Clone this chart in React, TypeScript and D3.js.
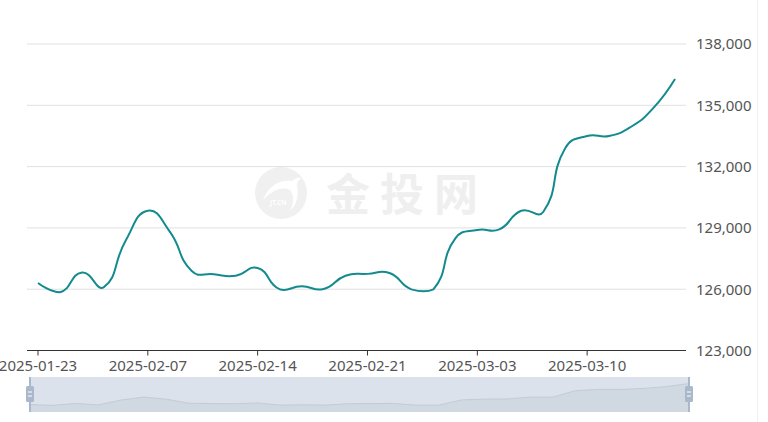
import React from "react";
import * as d3 from "d3";

const dates = [
  "2025-01-23", "2025-01-24", "2025-01-27", "2025-02-05", "2025-02-06",
  "2025-02-07", "2025-02-10", "2025-02-11", "2025-02-12", "2025-02-13",
  "2025-02-14", "2025-02-17", "2025-02-18", "2025-02-19", "2025-02-20",
  "2025-02-21", "2025-02-24", "2025-02-25", "2025-02-26", "2025-02-27",
  "2025-03-03", "2025-03-04", "2025-03-05", "2025-03-06", "2025-03-07",
  "2025-03-10", "2025-03-11", "2025-03-12", "2025-03-13", "2025-03-14",
];

const values = [
  126300, 125850, 126820, 126100, 128400,
  129840, 128820, 126890, 126730, 126660,
  127040, 126000, 126140, 126010, 126660,
  126750, 126790, 125990, 125990, 128490,
  128900, 128930, 129840, 129780, 132900,
  133500, 133500, 133950, 134850, 136290,
];

const yTicks = [123000, 126000, 129000, 132000, 135000, 138000];
const labelEvery = 5;

const W = 768;
const H = 422;
const FONT = "'Noto Sans', 'Open Sans', sans-serif";

// Bezier smoothing (smooth = 0.5), control arms split by neighbour distances,
// constrained to the bounding box of all points.
function smoothBezierCurve(context: any) {
  let pts: [number, number][] = [];
  const smooth = 0.5;
  return {
    areaStart() {},
    areaEnd() {},
    lineStart() {
      pts = [];
    },
    point(x: number, y: number) {
      pts.push([+x, +y]);
    },
    lineEnd() {
      const n = pts.length;
      if (!n) return;
      const minX = d3.min(pts, (p) => p[0]) as number;
      const maxX = d3.max(pts, (p) => p[0]) as number;
      const minY = d3.min(pts, (p) => p[1]) as number;
      const maxY = d3.max(pts, (p) => p[1]) as number;
      const clamp = (p: [number, number]): [number, number] => [
        Math.min(maxX, Math.max(minX, p[0])),
        Math.min(maxY, Math.max(minY, p[1])),
      ];
      const cps: [number, number][] = [];
      for (let i = 0; i < n; i++) {
        const p = pts[i];
        if (i === 0 || i === n - 1) {
          cps.push([p[0], p[1]]);
          continue;
        }
        const prev = pts[i - 1];
        const next = pts[i + 1];
        const vx = (next[0] - prev[0]) * smooth;
        const vy = (next[1] - prev[1]) * smooth;
        let d0 = Math.hypot(p[0] - prev[0], p[1] - prev[1]);
        let d1 = Math.hypot(p[0] - next[0], p[1] - next[1]);
        const sum = d0 + d1;
        if (sum !== 0) {
          d0 /= sum;
          d1 /= sum;
        }
        cps.push(clamp([p[0] - vx * d0, p[1] - vy * d0]));
        cps.push(clamp([p[0] + vx * d1, p[1] + vy * d1]));
      }
      context.moveTo(pts[0][0], pts[0][1]);
      for (let i = 0; i < n - 1; i++) {
        const c1 = cps[i * 2];
        const c2 = cps[i * 2 + 1];
        const p = pts[i + 1];
        context.bezierCurveTo(c1[0], c1[1], c2[0], c2[1], p[0], p[1]);
      }
    },
  };
}

export default function App() {
  const x = d3.scalePoint<string>().domain(dates).range([27, 686]).padding(0.5);
  const y = d3.scaleLinear().domain([123000, 138000]).range([350.5, 44]);

  const line = d3
    .line<number>()
    .x((_, i) => x(dates[i]) as number)
    .y((v) => y(v))
    .curve(smoothBezierCurve as any);

  // data zoom slider
  const sx0 = 30, sx1 = 689, sy0 = 377, sy1 = 412;
  const ext = d3.extent(values) as [number, number];
  const off = (ext[1] - ext[0]) * 0.3;
  const sxs = d3.scaleLinear().domain([0, dates.length - 1]).range([sx0, sx1]);
  const sys = d3.scaleLinear().domain([ext[0] - off, ext[1] + off]).range([sy1, sy0]);
  const shadowArea = d3
    .area<number>()
    .x((_, i) => sxs(i))
    .y0(sy1)
    .y1((v) => sys(v));
  const shadowLine = d3
    .line<number>()
    .x((_, i) => sxs(i))
    .y((v) => sys(v));

  const fmt = d3.format(",");

  const handle = (hx: number) => (
    <g>
      <line x1={hx} x2={hx} y1={sy0} y2={sy1} stroke="#a9b8cc" strokeWidth={2} />
      <rect x={hx - 4} y={386} width={8} height={16} rx={1.5} fill="#a9b8cc" />
      <line x1={hx - 2} x2={hx + 2} y1={392} y2={392} stroke="#fff" strokeWidth={1} />
      <line x1={hx - 2} x2={hx + 2} y1={396} y2={396} stroke="#fff" strokeWidth={1} />
    </g>
  );

  return (
    <svg
      width={W}
      height={H}
      style={{ position: "absolute", left: 0, top: 0, background: "#fff" }}
    >
      {/* watermark */}
      <g>
        <circle cx={281} cy={193} r={26} fill="#f0f0f0" />
        <path
          d="M263,200 C268,186 280,179 292,181 C295,178 299,177 302,178 C298,180 297,183 297,186 C299,195 297,204 290,211 C294,203 294,195 290,190 C282,186 272,190 263,200 Z"
          fill="#fff"
        />
        <text x={270} y={205} fontSize={6.5} fill="#fff" fontFamily={FONT} fontWeight="bold">
          JT.CN
        </text>
        <text
          x={326}
          y={211}
          fontSize={44}
          fontWeight="bold"
          letterSpacing={10}
          fill="#efefef"
          fontFamily="'Noto Sans CJK SC', sans-serif"
        >
          金投网
        </text>
      </g>

      {/* grid */}
      {yTicks.map((t) => (
        <g key={t}>
          {t !== 123000 && (
            <line x1={27} x2={686} y1={y(t)} y2={y(t)} stroke="#e0e0e0" strokeWidth={1} />
          )}
          <text
            x={696}
            y={y(t)}
            dy="0.36em"
            fontSize={15}
            fill="#555"
            fontFamily={FONT}
          >
            {fmt(t)}
          </text>
        </g>
      ))}

      {/* x axis */}
      <line x1={27} x2={686} y1={350.5} y2={350.5} stroke="#333" strokeWidth={1} />
      {dates.map((d, i) =>
        i % labelEvery === 0 ? (
          <g key={d}>
            <line
              x1={x(d) as number}
              x2={x(d) as number}
              y1={350.5}
              y2={355.5}
              stroke="#333"
              strokeWidth={1}
            />
            <text
              x={x(d) as number}
              y={370.5}
              textAnchor="middle"
              fontSize={15}
              fill="#555"
              fontFamily={FONT}
            >
              {d}
            </text>
          </g>
        ) : null
      )}

      {/* series */}
      <path d={line(values) || ""} fill="none" stroke="#138b8e" strokeWidth={2} />

      {/* slider */}
      <rect x={sx0} y={sy0} width={sx1 - sx0} height={sy1 - sy0} fill="#dce2eb" />
      <path d={shadowArea(values) || ""} fill="#d0d8e2" />
      <path d={shadowLine(values) || ""} fill="none" stroke="#c3cbd8" strokeWidth={1} />
      {handle(sx0)}
      {handle(sx1)}

      {/* right border */}
      <line x1={757.5} x2={757.5} y1={0} y2={H} stroke="#f1f1f1" strokeWidth={1} />
    </svg>
  );
}
